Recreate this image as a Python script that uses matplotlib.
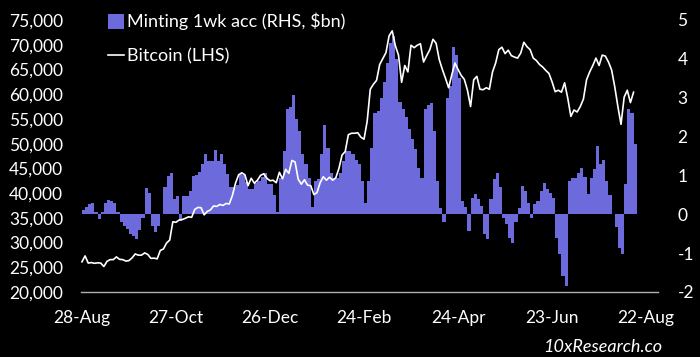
import numpy as np
import pandas as pd
import matplotlib
matplotlib.use("Agg")
import matplotlib.pyplot as plt
import matplotlib.dates as mdates
from matplotlib.patches import Patch
from matplotlib.lines import Line2D
from matplotlib.ticker import FuncFormatter

plt.rcParams['font.family'] = ['Lato', 'DejaVu Sans']

# one sample every 2 days starting 28-Aug-2023
start = pd.Timestamp("2023-08-28")
dates = pd.date_range(start, periods=177, freq="2D")

# Bitcoin price (LHS)
btc = [26100, 27300, 25850, 25950, 25800, 25900, 25850, 25150, 26200, 26550,
       26550, 27100, 26600, 26550, 26250, 26350, 26900, 27700, 27450, 27450,
       27900, 27600, 26800, 26850, 26700, 28400, 28700, 29900, 30500, 34200,
       34100, 34550, 34650, 34900, 35200, 35100, 36700, 37100, 37050, 35600,
       36300, 36600, 37400, 37300, 37700, 37500, 37900, 37800, 39500, 42000,
       43700, 44100, 43700, 41500, 43000, 42000, 42600, 43600, 43900, 43000,
       42500, 42600, 42100, 44200, 42900, 44800, 44000, 46600, 46300, 42800,
       41800, 42700, 41600, 41500, 39700, 40100, 42100, 43300, 42600, 43200,
       42600, 43100, 45000, 47700, 48400, 51800, 52100, 52100, 52200, 51300,
       50900, 54500, 61000, 62000, 62800, 66000, 67200, 68400, 71800, 72800,
       69800, 67900, 62400, 65800, 64500, 69900, 69400, 69900, 70200, 66500,
       67800, 69000, 71100, 70300, 67000, 65000, 63200, 61300, 63900, 66300,
       65000, 63800, 63000, 60800, 57500, 62900, 63600, 61000, 60900, 61300,
       61000, 64500, 66300, 69000, 69500, 68200, 68900, 67800, 67500, 67300,
       68300, 70500, 69600, 69000, 67300, 66800, 66000, 65500, 64800, 64200,
       62500, 60500, 60800, 60400, 62300, 59200, 55500, 56800, 56400, 57500,
       59000, 62900, 64500, 65800, 67300, 65800, 67900, 67700, 66500, 64900,
       61500, 57500, 53900, 59400, 60800, 58300, 60400]

# stablecoin minting, 1 week accumulated ($bn, RHS)
minting = [0.12, 0.18, 0.26, 0.30, 0.05, -0.12, 0.05, 0.30, 0.37, 0.35,
           0.30, 0.05, -0.20, -0.30, -0.38, -0.50, -0.55, -0.63, -0.40, -0.10,
           0.68, 0.55, -0.30, -0.45, -0.30, 0.02, 0.69, 0.99, 1.07, 0.40,
           0.48, -0.17, 0.48, 0.48, 0.60, 0.99, 1.00, 1.08, 1.30, 1.55,
           1.38, 1.38, 1.65, 1.38, 1.56, 1.29, 1.03, 0.69, 0.70, 0.75,
           1.03, 1.00, 0.82, 0.65, 0.65, 0.80, 0.86, 0.96, 1.07, 0.77,
           0.77, 0.50, 0.05, 0.94, 1.63, 2.70, 2.75, 3.08, 2.44, 2.14,
           1.54, 1.30, 0.94, 0.20, 0.86, 0.90, 1.54, 2.31, 1.71, 1.07,
           0.94, 0.94, 1.07, 1.37, 1.63, 1.63, 1.54, 1.40, 1.29, 0.86,
           0.30, 0.86, 1.71, 2.60, 2.65, 3.00, 3.40, 3.90, 4.40, 4.60,
           4.00, 2.90, 2.70, 2.50, 2.20, 1.93, 1.67, 1.20, 0.94, 2.70,
           2.80, 2.87, 2.14, 0.86, 0.17, -0.20, 3.00, 3.30, 4.30, 4.10,
           3.50, 0.34, 0.20, -0.43, 0.43, 0.51, 0.40, 0.21, -0.51, -0.64,
           0.39, 0.90, 1.05, 0.69, -0.10, -0.26, -0.60, -0.73, -0.20, 0.17,
           0.73, 0.60, 0.30, -0.09, 0.26, 0.34, 0.60, 0.81, 0.64, 0.55,
           0.43, -0.60, -1.03, -1.59, -1.84, 0.86, 0.94, 0.94, 1.07, 1.20,
           0.95, 0.51, 0.94, 1.16, 1.76, 1.29, 1.40, 0.86, 0.50, 0.00,
           -0.34, -0.86, -1.03, 0.77, 2.70, 2.60, 1.80]

tick_dates = pd.date_range(start, periods=7, freq="60D")
left_ticks = np.arange(20000, 75001, 5000)
right_ticks = np.arange(-2, 6, 1)

bar_color = "#6d6bdb"
bg = "black"

fig = plt.figure(figsize=(7, 3.57), dpi=100, facecolor=bg)
ax = fig.add_axes([81 / 700, 1 - 292 / 357, 577 / 700, 272 / 357])
ax2 = ax.twinx()

# bars drawn as one stepped area so adjacent columns have no seams
edges = pd.date_range(start, periods=len(minting) + 1, freq="2D")
ax2.stairs(minting, mdates.date2num(edges), baseline=0, fill=True,
           color=bar_color, linewidth=0)
ax.plot(dates, btc, color="white", linewidth=1.2)

# line above bars
ax.set_zorder(ax2.get_zorder() + 1)
ax.patch.set_visible(False)
ax2.patch.set_facecolor(bg)

ax.set_ylim(20000, 75000)
ax2.set_ylim(-2, 5)
ax.set_yticks(left_ticks)
ax2.set_yticks(right_ticks)
ax.yaxis.set_major_formatter(FuncFormatter(lambda v, p: f"{int(v):,}"))
ax2.yaxis.set_major_formatter(FuncFormatter(lambda v, p: f"{int(v)}"))

ax.set_xlim(start - pd.Timedelta(days=0.6), start + pd.Timedelta(days=367.6))
ax.set_xticks(tick_dates)
ax.xaxis.set_major_formatter(mdates.DateFormatter("%d-%b"))

for a in (ax, ax2):
    for s in a.spines.values():
        s.set_visible(False)
    a.tick_params(length=0, colors="white", labelsize=12.5)
ax.tick_params(axis="y", pad=13)
ax2.tick_params(axis="y", pad=14)
ax.tick_params(axis="x", pad=13)
ax.spines["bottom"].set_visible(True)
ax.spines["bottom"].set_color("#b0b0b0")
ax.spines["bottom"].set_linewidth(1.0)

handles = [Patch(facecolor=bar_color, edgecolor="none"),
           Line2D([0], [0], color="white", linewidth=1.2)]
leg = fig.legend(handles, ["Minting 1wk acc (RHS, $bn)", "Bitcoin (LHS)"],
                 loc="upper left", bbox_to_anchor=(108 / 700, 1 - 13 / 357),
                 frameon=False, fontsize=13, handlelength=0.9,
                 handleheight=0.9, handletextpad=0.15, labelspacing=0.95,
                 borderpad=0, borderaxespad=0)
for t in leg.get_texts():
    t.set_color("white")

fig.text(603 / 700, 1 - 347 / 357, "10xResearch.co", color="white",
         fontsize=13, style="italic", ha="center", va="center")

fig.savefig("out.png", dpi=100, facecolor=bg)
